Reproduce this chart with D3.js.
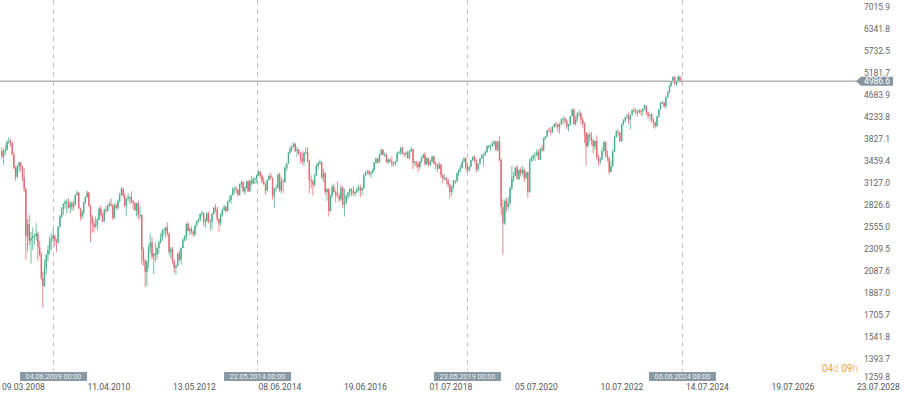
<!DOCTYPE html>
<html>
<head>
<meta charset="utf-8">
<script src="https://cdn.jsdelivr.net/npm/d3@7"></script>
<style>
html,body{margin:0;padding:0;background:#fff;}
svg{display:block;font-family:Roboto,"Noto Sans",sans-serif;}
</style>
</head>
<body>
<svg id="chart" width="905" height="401"></svg>
<script>
// ---- DATA: semi-monthly candles [open, high, low, close] (1st & 16th of each month) ----
const y2008 = [[3620,3680,3500,3530],[3530,3650,3400,3630],[3630,3720,3560,3640],[3640,3800,3620,3780],[3780,3860,3740,3790],[3790,3830,3690,3760],[3760,3780,3550,3560],[3560,3600,3330,3350],[3350,3380,3160,3220],[3220,3400,3200,3370],[3370,3450,3280,3430],[3430,3440,3300,3370],[3370,3380,3150,3200],[3200,3350,3000,3040],[3040,3060,2200,2450],[2450,2650,2280,2590],[2590,2700,2350,2400],[2400,2500,2160,2430],[2430,2550,2300,2450],[2450,2480,2350,2450]];
const y2009 = [[2450,2600,2400,2480],[2480,2500,2190,2330],[2330,2400,2230,2250],[2250,2280,2000,2020],[2020,2080,1765,1950],[1950,2200,1940,2110],[2110,2250,2050,2250],[2250,2350,2180,2300],[2300,2450,2250,2400],[2400,2480,2300,2420],[2420,2530,2380,2450],[2450,2470,2340,2400],[2400,2420,2280,2380],[2380,2560,2370,2560],[2560,2700,2540,2680],[2680,2800,2660,2770],[2770,2850,2700,2840],[2840,2900,2780,2870],[2870,2900,2720,2870],[2870,2920,2780,2790],[2790,2870,2720,2850],[2850,2880,2750,2800],[2800,2880,2760,2830],[2830,2970,2820,2960]];
const y2010 = [[2960,3020,2950,2990],[2990,3000,2780,2780],[2780,2790,2630,2680],[2680,2760,2650,2730],[2730,2870,2700,2860],[2860,2940,2840,2930],[2930,3020,2920,2990],[2990,3000,2800,2820],[2820,2830,2380,2680],[2680,2700,2490,2600],[2600,2650,2490,2560],[2560,2680,2540,2580],[2580,2660,2520,2640],[2640,2800,2630,2780],[2780,2820,2680,2700],[2700,2730,2610,2620],[2620,2780,2620,2760],[2760,2810,2720,2750],[2750,2830,2740,2820],[2820,2880,2800,2840],[2840,2910,2800,2820],[2820,2840,2640,2660],[2660,2850,2660,2820],[2820,2850,2770,2790]];
const y2011 = [[2790,2900,2760,2880],[2880,2990,2860,2960],[2960,3070,2950,3040],[3040,3060,2920,2950],[2950,2980,2800,2820],[2820,2920,2690,2910],[2910,2990,2880,2930],[2930,2950,2840,2930],[2930,3010,2850,2870],[2870,2890,2770,2850],[2850,2870,2750,2760],[2760,2850,2680,2850],[2850,2880,2640,2700],[2700,2810,2650,2700],[2700,2710,2150,2300],[2300,2330,2140,2190],[2190,2210,1940,2080],[2080,2190,1950,2180],[2180,2350,2110,2330],[2330,2480,2260,2380],[2380,2440,2200,2230],[2230,2270,2060,2260],[2260,2380,2180,2250],[2250,2330,2200,2320]];
const y2012 = [[2320,2400,2260,2380],[2380,2480,2370,2420],[2420,2530,2400,2510],[2510,2540,2460,2520],[2520,2560,2430,2550],[2550,2610,2450,2480],[2480,2490,2250,2280],[2280,2330,2210,2310],[2310,2330,2160,2180],[2180,2200,2070,2120],[2120,2150,2050,2140],[2140,2270,2130,2260],[2260,2300,2180,2200],[2200,2330,2150,2320],[2320,2430,2320,2410],[2410,2460,2390,2440],[2440,2600,2400,2590],[2590,2620,2500,2510],[2510,2550,2460,2530],[2530,2560,2470,2500],[2500,2520,2440,2470],[2470,2580,2450,2570],[2570,2630,2560,2620],[2620,2660,2600,2640]];
const y2013 = [[2640,2720,2620,2710],[2710,2750,2680,2720],[2720,2740,2570,2620],[2620,2660,2540,2630],[2630,2740,2610,2720],[2720,2740,2600,2620],[2620,2650,2510,2620],[2620,2730,2530,2710],[2710,2800,2700,2790],[2790,2840,2730,2770],[2770,2800,2620,2650],[2650,2660,2500,2600],[2600,2720,2570,2700],[2700,2780,2680,2760],[2760,2830,2750,2800],[2800,2820,2720,2750],[2750,2880,2740,2870],[2870,2940,2860,2890],[2890,2960,2840,2960],[2960,3070,2950,3040],[3040,3070,2980,3050],[3050,3080,2990,3030],[3030,3040,2940,2960],[2960,3120,2950,3110]];
const y2014 = [[3110,3160,3060,3140],[3140,3150,2990,3010],[3010,3080,2960,3060],[3060,3160,3050,3150],[3150,3160,3000,3010],[3010,3180,3000,3160],[3160,3230,3090,3120],[3120,3210,3110,3180],[3180,3200,3110,3190],[3190,3250,3120,3240],[3240,3320,3230,3290],[3290,3300,3200,3230],[3230,3260,3120,3160],[3160,3210,3100,3120],[3120,3130,2960,3020],[3020,3180,3010,3170],[3170,3250,3160,3230],[3230,3280,3180,3200],[3200,3210,2900,2950],[2950,3060,2790,3050],[3050,3100,3000,3060],[3060,3260,3050,3250],[3250,3280,3000,3020],[3020,3210,2980,3150]];
const y2015 = [[3150,3190,2990,3140],[3140,3390,3130,3350],[3350,3430,3300,3420],[3420,3600,3410,3590],[3590,3690,3570,3660],[3660,3720,3610,3690],[3690,3770,3680,3740],[3740,3760,3600,3620],[3620,3690,3520,3640],[3640,3660,3560,3570],[3570,3600,3430,3500],[3500,3620,3400,3450],[3450,3600,3380,3590],[3590,3680,3560,3600],[3600,3680,3440,3460],[3460,3470,2980,3170],[3170,3240,3050,3150],[3150,3180,2950,3100],[3100,3260,3070,3240],[3240,3420,3230,3380],[3380,3450,3330,3420],[3420,3480,3400,3440],[3440,3450,3180,3210],[3210,3340,3140,3270]];
const y2016 = [[3270,3290,2960,3000],[3000,3050,2880,3040],[3040,3050,2680,2750],[2750,2960,2740,2950],[2950,3100,2920,3070],[3070,3120,2990,3000],[3000,3020,2860,2950],[2950,3150,2940,2940],[2940,2980,2860,2900],[2900,3100,2880,3060],[3060,3080,2790,2830],[2830,3040,2680,2860],[2860,2960,2830,2950],[2950,3000,2900,2990],[2990,3050,2930,3040],[3040,3050,2950,3020],[3020,3080,2950,2980],[2980,3010,2940,3000],[3000,3070,2980,3030],[3030,3100,3010,3060],[3060,3100,2930,3020],[3020,3070,2960,3050],[3050,3260,3040,3240],[3240,3300,3230,3290]];
const y2017 = [[3290,3320,3250,3300],[3300,3320,3230,3260],[3260,3300,3200,3280],[3280,3340,3260,3320],[3320,3440,3300,3430],[3430,3500,3410,3500],[3500,3510,3420,3440],[3440,3580,3430,3560],[3560,3660,3550,3640],[3640,3650,3540,3560],[3560,3600,3520,3560],[3560,3580,3430,3440],[3440,3500,3410,3480],[3480,3500,3430,3450],[3450,3530,3370,3420],[3420,3450,3370,3420],[3420,3460,3380,3450],[3450,3600,3440,3590],[3590,3620,3570,3600],[3600,3690,3560,3670],[3670,3700,3560,3580],[3580,3600,3520,3570],[3570,3610,3530,3590],[3590,3620,3500,3500]];
const y2018 = [[3500,3630,3490,3620],[3620,3690,3600,3650],[3650,3660,3330,3430],[3430,3460,3380,3440],[3440,3460,3360,3420],[3420,3440,3280,3360],[3360,3460,3330,3450],[3450,3530,3430,3520],[3520,3580,3490,3560],[3560,3600,3380,3410],[3410,3520,3390,3500],[3500,3510,3370,3400],[3400,3470,3370,3450],[3450,3540,3430,3530],[3530,3540,3400,3420],[3420,3450,3330,3400],[3400,3420,3290,3340],[3340,3450,3330,3400],[3400,3410,3200,3240],[3240,3260,3120,3190],[3190,3250,3160,3200],[3200,3210,3110,3170],[3170,3190,3060,3100],[3100,3120,2910,3000]];
const y2019 = [[3000,3090,2950,3070],[3070,3170,3040,3160],[3160,3170,3110,3150],[3150,3280,3140,3270],[3270,3330,3230,3320],[3320,3400,3280,3350],[3350,3460,3340,3450],[3450,3520,3440,3500],[3500,3510,3320,3360],[3360,3400,3270,3310],[3310,3380,3300,3370],[3370,3480,3360,3470],[3470,3540,3460,3520],[3520,3550,3440,3470],[3470,3490,3280,3330],[3330,3420,3300,3420],[3420,3510,3400,3500],[3500,3570,3480,3550],[3550,3580,3380,3560],[3560,3630,3540,3600],[3600,3720,3590,3700],[3700,3730,3660,3700],[3700,3720,3620,3710],[3710,3790,3690,3750]];
const y2020 = [[3750,3800,3700,3780],[3780,3800,3620,3640],[3640,3790,3610,3780],[3780,3870,3450,3480],[3480,3500,2700,2800],[2800,2900,2250,2600],[2600,2900,2580,2880],[2880,2920,2740,2800],[2800,2930,2770,2850],[2850,3080,2820,3050],[3050,3380,3020,3200],[3200,3290,3140,3230],[3230,3360,3220,3360],[3360,3400,3240,3180],[3180,3330,3170,3320],[3320,3360,3220,3270],[3270,3380,3240,3320],[3320,3340,3140,3200],[3200,3300,3180,3280],[3280,3300,2920,3000],[3000,3500,2990,3450],[3450,3540,3440,3500],[3500,3570,3460,3540],[3540,3600,3460,3550]];
const y2021 = [[3550,3650,3530,3600],[3600,3640,3480,3480],[3480,3680,3470,3660],[3660,3720,3600,3640],[3640,3850,3620,3840],[3840,3880,3800,3870],[3870,3990,3860,3980],[3980,4030,3940,3970],[3970,4040,3900,3950],[3950,4060,3930,4040],[4040,4110,4030,4100],[4100,4150,4030,4080],[4080,4110,3950,4040],[4040,4120,3920,4100],[4100,4200,4080,4190],[4190,4240,4100,4200],[4200,4230,4100,4150],[4150,4190,4000,4050],[4050,4100,3960,4080],[4080,4250,4070,4250],[4250,4400,4240,4380],[4380,4390,4080,4100],[4100,4250,4070,4180],[4180,4330,4140,4300]];
const y2022 = [[4300,4370,4240,4300],[4300,4330,4090,4180],[4180,4220,4030,4100],[4100,4130,3760,3930],[3930,3950,3380,3700],[3700,3940,3680,3900],[3900,3940,3780,3860],[3860,3950,3720,3800],[3800,3820,3580,3700],[3700,3800,3640,3790],[3790,3890,3480,3520],[3520,3560,3390,3450],[3450,3520,3400,3480],[3480,3680,3470,3620],[3620,3790,3610,3770],[3770,3780,3520,3540],[3540,3630,3450,3500],[3500,3530,3250,3290],[3290,3460,3280,3380],[3380,3650,3370,3610],[3610,3880,3600,3860],[3860,3980,3850,3960],[3960,4000,3880,3940],[3940,3950,3770,3790]];
const y2023 = [[3790,4100,3780,4090],[4090,4190,4070,4160],[4160,4240,4130,4220],[4220,4290,4200,4240],[4240,4320,4100,4180],[4180,4240,4000,4280],[4280,4380,4250,4370],[4370,4420,4320,4360],[4360,4400,4280,4330],[4330,4370,4240,4320],[4320,4390,4300,4360],[4360,4380,4260,4340],[4340,4400,4250,4390],[4390,4480,4370,4460],[4460,4470,4270,4320],[4320,4340,4200,4260],[4260,4290,4150,4280],[4280,4310,4120,4170],[4170,4200,4020,4130],[4130,4140,4010,4060],[4060,4250,4050,4240],[4240,4390,4220,4380],[4380,4530,4370,4520],[4520,4560,4490,4520]];
const y2024 = [[4520,4530,4410,4450],[4450,4650,4400,4640],[4640,4760,4620,4740],[4740,4900,4720,4880],[4880,4990,4860,4980],[4980,5100,4950,5080],[5080,5100,4900,4920],[4920,5000,4860,4970],[4970,5120,4950,5090],[5090,5110,4960,4990],[4990,5050,4950,4986.6]];

const yearBlocks = [[2008,3,y2008],[2009,1,y2009],[2010,1,y2010],[2011,1,y2011],[2012,1,y2012],[2013,1,y2013],[2014,1,y2014],[2015,1,y2015],[2016,1,y2016],[2017,1,y2017],[2018,1,y2018],[2019,1,y2019],[2020,1,y2020],[2021,1,y2021],[2022,1,y2022],[2023,1,y2023],[2024,1,y2024]];

const xTickDates = ["2008-03-09","2010-04-11","2012-05-13","2014-06-08","2016-06-19","2018-07-01","2020-07-05","2022-07-10","2024-07-14","2026-07-19","2028-07-23"];
const yTicks = [1259.8,1393.7,1541.8,1705.7,1887.0,2087.6,2309.5,2555.0,2826.6,3127.0,3459.4,3827.1,4233.8,4683.9,5181.7,5732.5,6341.8,7015.9];
const markerDates = ["2009-06-04 00:00","2014-05-22 00:00","2019-05-23 00:00","2024-06-06 08:00"];
const lastPrice = 4986.6;
const countdown = [["04","#f2a23a"],["d","#f6c98c"],[" 09","#f2a23a"],["h","#f6c98c"]];

// ---- build candles ----
const candles = [];
yearBlocks.forEach(([yr, startMonth, arr]) => {
  arr.forEach((d, i) => {
    const m = startMonth - 1 + Math.floor(i / 2);
    const day = (i % 2 === 0) ? 8 : 23;
    candles.push({date: new Date(yr, m, day), o: d[0], h: d[1], l: d[2], c: d[3]});
  });
});

const svg = d3.select("#chart");
const parseDay = d3.timeParse("%Y-%m-%d");
const parseDT = d3.timeParse("%Y-%m-%d %H:%M");
const tickDates = xTickDates.map(parseDay);
const labelStep = 85.5, labelStart = 2;
const x = d3.scaleTime()
  .domain(tickDates)
  .range(tickDates.map((d, i) => labelStart + i * labelStep));
const y = d3.scaleLog().domain([1259.8, 7015.9]).range([381.2, 6.7]);

const up = "#48b08d", down = "#e06a73";

// markers (dashed vertical lines)
const mk = svg.append("g");
markerDates.forEach(s => {
  const d = parseDT(s);
  const xx = Math.round(x(d)) + 0.5;
  mk.append("line").attr("x1", xx).attr("x2", xx).attr("y1", 0).attr("y2", 371)
    .attr("stroke", "#c4c4c4").attr("stroke-width", 1).attr("stroke-dasharray", "5,4");
});

// candles
const cg = svg.append("g");
candles.forEach(d => {
  const cx = x(d.date);
  const col = d.c >= d.o ? up : down;
  cg.append("line").attr("x1", cx).attr("x2", cx).attr("y1", y(d.h)).attr("y2", y(d.l))
    .attr("stroke", col).attr("stroke-width", 0.8);
  const top = y(Math.max(d.o, d.c)), bot = y(Math.min(d.o, d.c));
  cg.append("rect").attr("x", cx - 0.7).attr("width", 1.4)
    .attr("y", top).attr("height", Math.max(0.8, bot - top)).attr("fill", col);
});

// last price line
const py = y(lastPrice);
svg.append("line").attr("x1", 0).attr("x2", 857).attr("y1", py).attr("y2", py)
  .attr("stroke", "#b4b4b4").attr("stroke-width", 1.5);
svg.append("path")
  .attr("d", `M856,${py} L861,${py-4.5} L893,${py-4.5} L893,${py+4.5} L861,${py+4.5} Z`)
  .attr("fill", "#86959f");
svg.append("text").attr("x", 877).attr("y", py + 3).attr("text-anchor", "middle")
  .attr("font-size", 8.5).attr("fill", "#ffffff").text(d3.format(".1f")(lastPrice));

// y-axis labels
const yl = svg.append("g").attr("font-size", 8.5).attr("fill", "#666");
yTicks.forEach(v => {
  const ty = Math.min(y(v), 377);
  yl.append("text").attr("x", 864).attr("y", ty + 3).text(d3.format(".1f")(v));
});

// x-axis labels
const fmt = d3.timeFormat("%d.%m.%Y");
const xl = svg.append("g").attr("font-size", 8.5).attr("fill", "#555");
tickDates.forEach(d => {
  xl.append("text").attr("x", x(d)).attr("y", 390).text(fmt(d));
});

// marker date boxes
const fmtDT = d3.timeFormat("%d.%m.%Y %H:%M");
markerDates.forEach(s => {
  const d = parseDT(s);
  const xx = Math.round(x(d)) + 0.5;
  svg.append("rect").attr("x", xx - 33.5).attr("y", 372).attr("width", 67).attr("height", 9)
    .attr("fill", "#8a9aa5");
  svg.append("text").attr("x", xx).attr("y", 379.3).attr("text-anchor", "middle")
    .attr("font-size", 7.2).attr("fill", "#e9eef1").text(fmtDT(d));
});

// countdown
const ct = svg.append("text").attr("x", 858).attr("y", 372).attr("text-anchor", "end")
  .attr("font-size", 10);
countdown.forEach(([t, c]) => ct.append("tspan").attr("fill", c).text(t));
</script>
</body>
</html>
